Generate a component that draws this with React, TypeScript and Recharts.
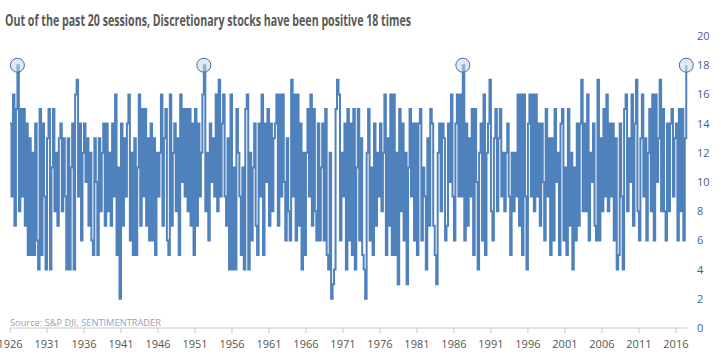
import React from 'react'
import { LineChart, Line, XAxis, YAxis } from 'recharts'

// positive sessions out of the last 20, five readings per year
const v1926 = [
  14, 9, 16, 7, 15, 18, 8, 15, 9, 15,
  7, 14, 5, 13, 5, 12, 5, 14, 6, 4,
  15, 5, 14, 9, 4, 13, 15, 4, 11, 15,
  8, 12, 7, 13, 14, 8, 13, 9, 4, 13,
  4, 11, 14, 4, 16, 17, 9, 14, 6, 12,
]
const v1936 = [
  14, 10, 13, 7, 12, 6, 5, 13, 10, 5,
  13, 8, 12, 14, 7, 14, 8, 12, 7, 14,
  9, 16, 5, 11, 2, 14, 7, 13, 9, 14,
  16, 6, 12, 5, 13, 5, 11, 16, 7, 15,
  9, 15, 7, 13, 6, 14, 6, 13, 5, 12,
]
const v1946 = [
  9, 12, 16, 7, 13, 15, 6, 5, 16, 7,
  12, 14, 8, 13, 5, 16, 10, 15, 9, 15,
  8, 15, 7, 14, 5, 15, 7, 14, 9, 12,
  16, 18, 8, 12, 6, 14, 10, 13, 9, 16,
  8, 17, 9, 14, 16, 9, 7, 13, 4, 16,
]
const v1956 = [
  4, 11, 4, 15, 12, 9, 5, 11, 4, 15,
  16, 4, 12, 6, 11, 14, 7, 5, 14, 9,
  16, 5, 14, 10, 15, 7, 14, 8, 13, 14,
  16, 7, 16, 9, 16, 10, 6, 13, 8, 6,
  17, 9, 16, 6, 16, 7, 14, 4, 12, 5,
]
const v1966 = [
  12, 15, 9, 16, 7, 15, 8, 6, 14, 6,
  11, 14, 6, 15, 5, 4, 12, 2, 3, 4,
  15, 17, 16, 6, 12, 9, 14, 4, 15, 6,
  14, 5, 15, 4, 11, 15, 6, 13, 5, 4,
  2, 12, 15, 6, 11, 5, 14, 7, 12, 9,
]
const v1976 = [
  14, 8, 12, 16, 5, 13, 7, 16, 5, 16,
  5, 12, 3, 15, 8, 14, 6, 12, 3, 11,
  15, 9, 14, 6, 14, 5, 14, 15, 6, 11,
  9, 4, 13, 7, 15, 14, 7, 5, 3, 12,
  14, 8, 14, 13, 6, 7, 14, 10, 16, 9,
]
const v1986 = [
  6, 14, 16, 9, 16, 9, 18, 6, 14, 7,
  13, 9, 15, 5, 15, 10, 4, 12, 14, 6,
  16, 5, 12, 14, 17, 8, 6, 13, 15, 8,
  13, 15, 9, 12, 8, 12, 14, 9, 5, 12,
  8, 12, 9, 16, 7, 16, 5, 16, 9, 4,
]
const v1996 = [
  14, 16, 9, 16, 8, 16, 9, 14, 7, 14,
  10, 6, 15, 9, 13, 5, 13, 6, 15, 10,
  12, 5, 14, 15, 6, 11, 5, 15, 7, 12,
  4, 11, 6, 14, 7, 14, 17, 8, 14, 8,
  16, 6, 12, 10, 14, 7, 6, 17, 6, 13,
]
const v2006 = [
  8, 15, 9, 16, 8, 14, 9, 14, 6, 13,
  4, 5, 14, 9, 4, 15, 16, 8, 13, 10,
  16, 7, 14, 17, 8, 6, 13, 16, 9, 13,
  6, 12, 15, 8, 16, 6, 16, 10, 13, 17,
  8, 15, 8, 6, 14, 8, 14, 15, 9, 13,
]
const v2016 = [14, 6, 15, 8, 15, 6, 13, 18]

const decades: [number, number[]][] = [
  [1926, v1926], [1936, v1936], [1946, v1946], [1956, v1956], [1966, v1966],
  [1976, v1976], [1986, v1986], [1996, v1996], [2006, v2006], [2016, v2016],
]

const yearTicks = [1926, 1931, 1936, 1941, 1946, 1951, 1956, 1961, 1966, 1971, 1976, 1981, 1986, 1991, 1996, 2001, 2006, 2011, 2016]
const valueTicks = [0, 2, 4, 6, 8, 10, 12, 14, 16, 18, 20]
const HIGHLIGHT = 18

const data = decades.flatMap(([start, vals]) =>
  vals.map((v, i) => ({ year: start + i / 5, value: v }))
)

const renderDot = (props: any) => {
  const { cx, cy, value, index } = props
  if (value !== HIGHLIGHT) return <g key={`d-${index}`} />
  return (
    <circle
      key={`d-${index}`}
      cx={cx}
      cy={cy}
      r={7}
      fill="#c9d7ea"
      fillOpacity={0.55}
      stroke="#4a6d9c"
      strokeWidth={1}
    />
  )
}

export default function App() {
  return (
    <div style={{ position: 'absolute', left: 0, top: 0, width: 721, height: 358, background: '#fff' }}>
      <LineChart
        width={721}
        height={358}
        data={data}
        margin={{ top: 36, right: 0, bottom: 0, left: 10 }}
      >
        <XAxis
          dataKey="year"
          type="number"
          domain={[1926, 2017.5]}
          ticks={yearTicks}
          interval={0}
          height={30}
          stroke="#c8c8c8"
          tickSize={5}
          tickMargin={7}
          tick={{ fill: '#555', fontSize: 11, fontFamily: 'Open Sans' }}
        />
        <YAxis
          orientation="right"
          type="number"
          domain={[0, 20]}
          ticks={valueTicks}
          interval={0}
          width={34}
          axisLine={false}
          tickLine={false}
          tickMargin={4}
          tick={{ fill: '#44618f', fontSize: 11, fontFamily: 'Open Sans', textAnchor: 'start' }}
        />
        <Line
          type="stepAfter"
          dataKey="value"
          stroke="#4f81bd"
          strokeWidth={2}
          dot={renderDot}
          activeDot={false}
          isAnimationActive={false}
        />
      </LineChart>
      <svg
        width={721}
        height={358}
        style={{ position: 'absolute', left: 0, top: 0, pointerEvents: 'none' }}
      >
        <text
          x={5}
          y={26}
          fontFamily="Open Sans"
          fontWeight={700}
          fontSize={16.5}
          fill="#595959"
          textLength={406}
          lengthAdjust="spacingAndGlyphs"
        >
          Out of the past 20 sessions, Discretionary stocks have been positive 18 times
        </text>
        <text
          x={10}
          y={326}
          fontFamily="Open Sans"
          fontSize={9.5}
          fill="#a0a0a0"
          textLength={151}
          lengthAdjust="spacingAndGlyphs"
        >
          Source: S&amp;P DJI, <tspan fill="#7fa6d9">SENTIMEN</tspan>TRADER
        </text>
      </svg>
    </div>
  )
}
